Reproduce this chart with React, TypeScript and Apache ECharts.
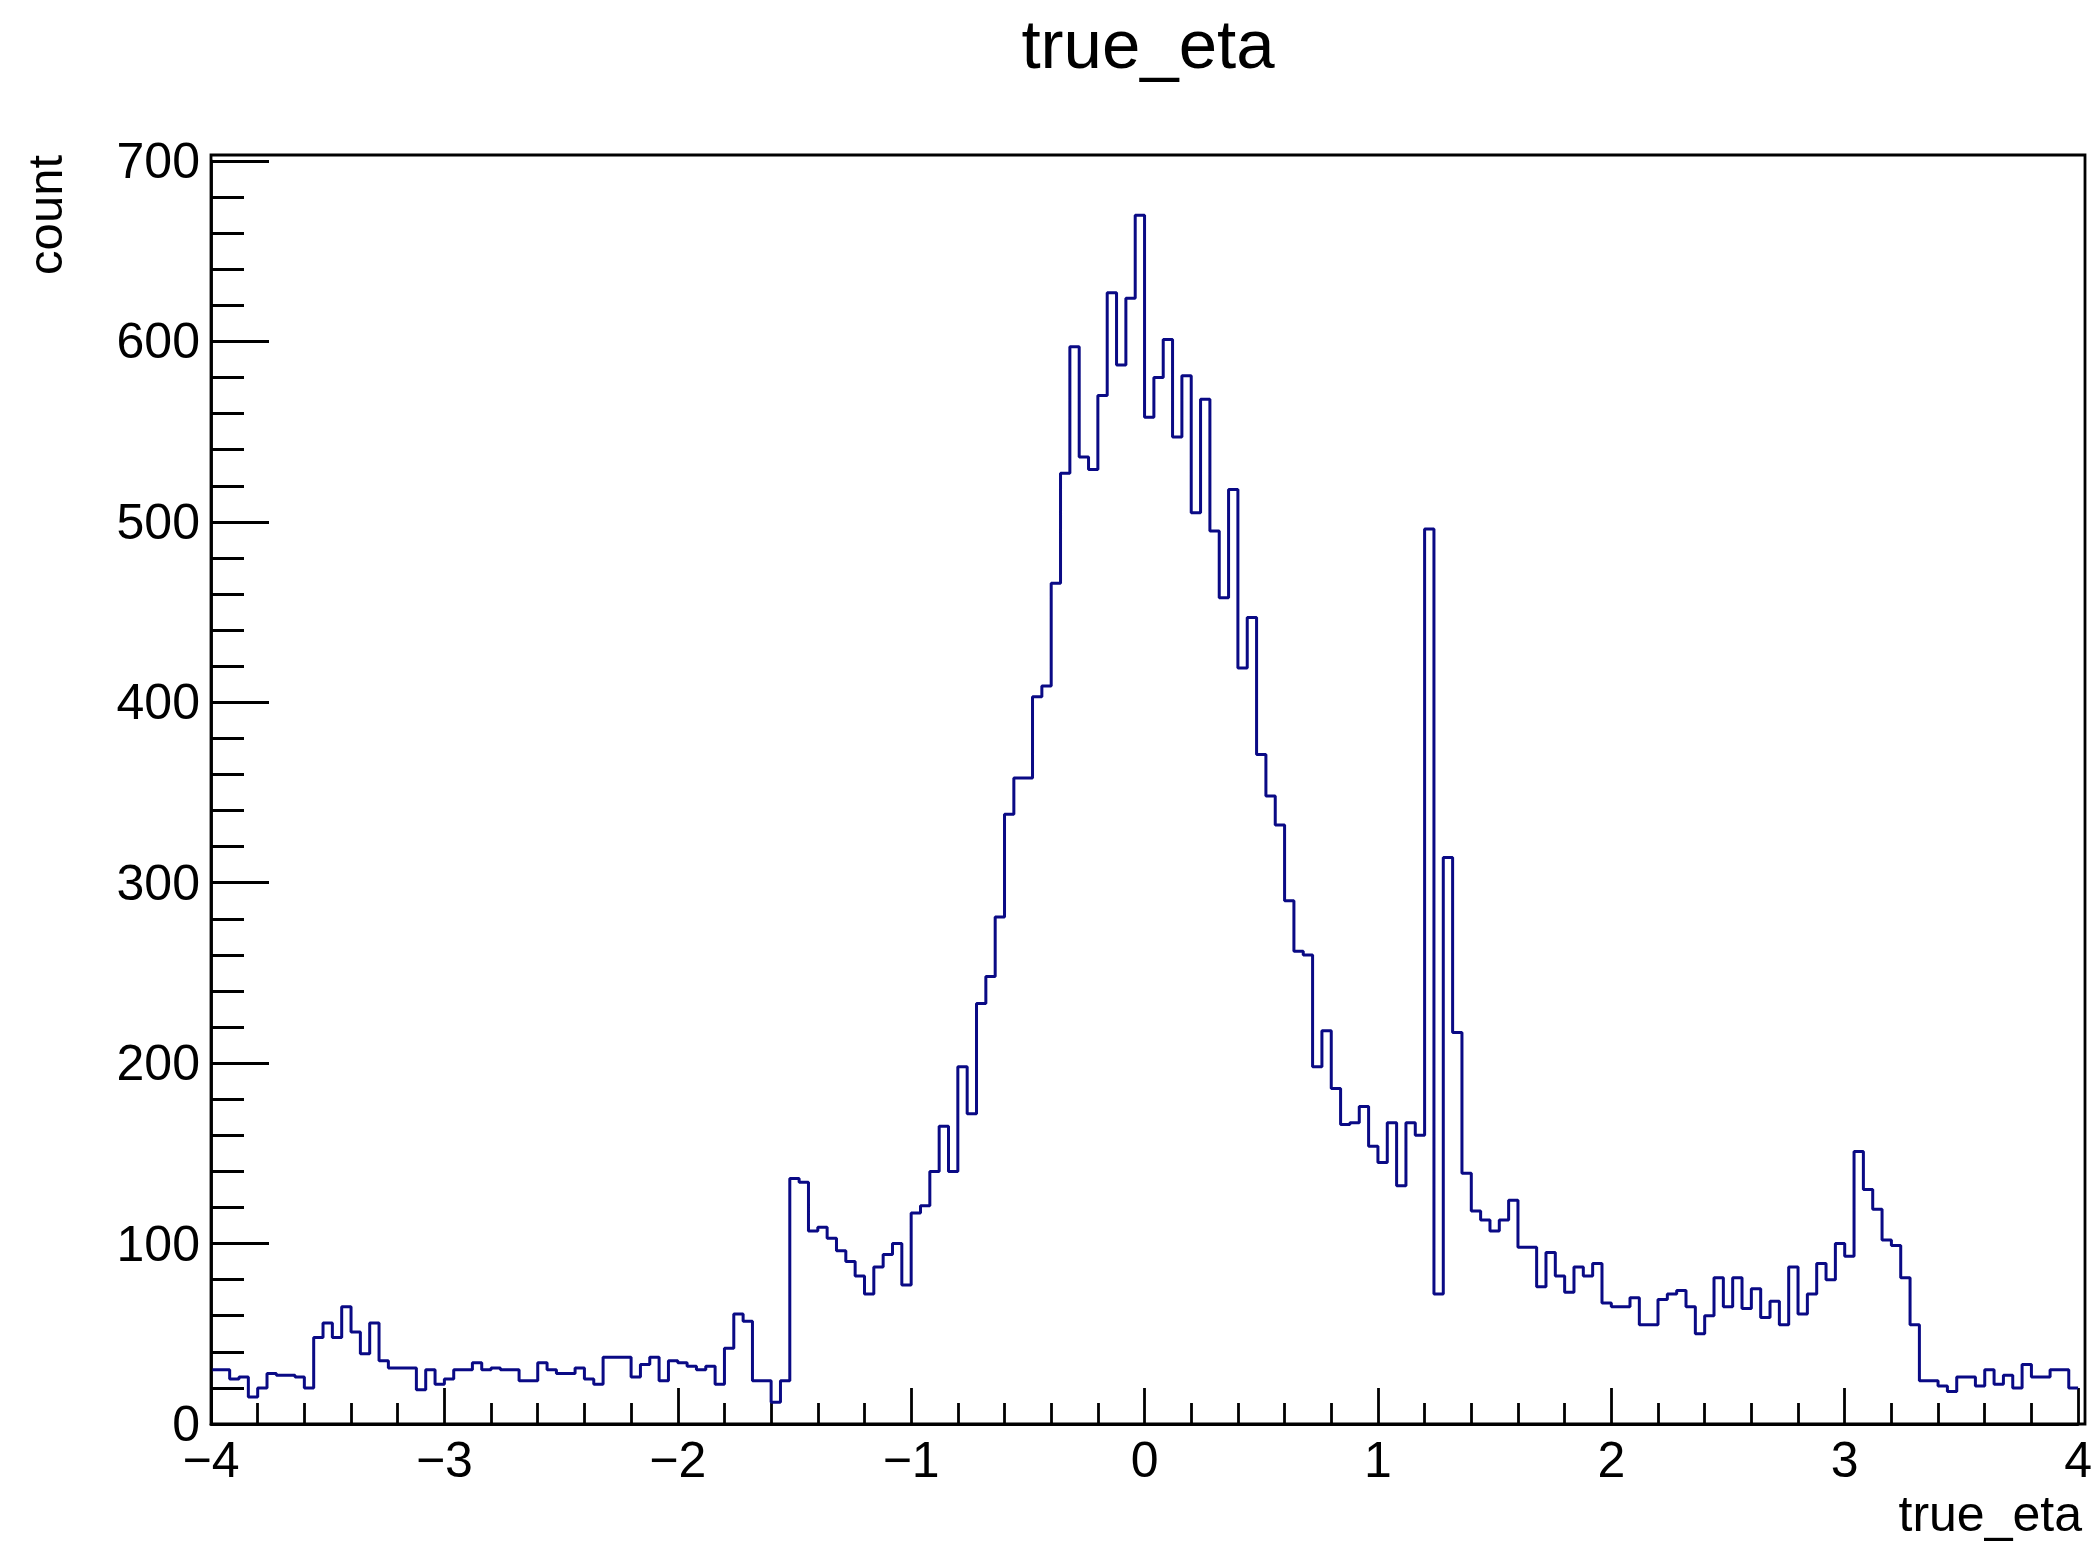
import React, { useEffect, useRef } from "react";
import * as echarts from "echarts";

// Histogram binning: 200 bins over [-4, 4]
const X_MIN = -4;
const X_MAX = 4;
const BIN_WIDTH = 0.04;

// Bin contents, one array per unit of eta (25 bins each)
const countsM4toM3 = [30, 30, 25, 26, 15, 20, 28, 27, 27, 26, 20, 48, 56, 48, 65, 51, 39, 56, 35, 31, 31, 31, 19, 30, 22];
const countsM3toM2 = [25, 30, 30, 34, 30, 31, 30, 30, 24, 24, 34, 30, 28, 28, 31, 25, 22, 37, 37, 37, 26, 33, 37, 24, 35];
const countsM2toM1 = [34, 32, 30, 32, 22, 42, 61, 57, 24, 24, 12, 24, 136, 134, 107, 109, 103, 96, 90, 82, 72, 87, 94, 100, 77];
const countsM1to0 = [117, 121, 140, 165, 140, 198, 172, 233, 248, 281, 338, 358, 358, 403, 409, 466, 527, 597, 536, 529, 570, 627, 587, 624, 670];
const counts0to1 = [558, 580, 601, 547, 581, 505, 568, 495, 458, 518, 419, 447, 371, 348, 332, 290, 262, 260, 198, 218, 186, 166, 167, 176, 154];
const counts1to2 = [145, 167, 132, 167, 160, 496, 72, 314, 217, 139, 118, 113, 107, 113, 124, 98, 98, 76, 95, 82, 73, 87, 82, 89, 67];
const counts2to3 = [65, 65, 70, 55, 55, 69, 72, 74, 65, 50, 60, 81, 65, 81, 64, 75, 59, 68, 55, 87, 61, 72, 89, 80, 100];
const counts3to4 = [93, 151, 130, 119, 102, 99, 81, 55, 24, 24, 21, 18, 26, 26, 21, 30, 22, 27, 20, 33, 26, 26, 30, 30, 20];

const counts = [
  ...countsM4toM3,
  ...countsM3toM2,
  ...countsM2toM1,
  ...countsM1to0,
  ...counts0to1,
  ...counts1to2,
  ...counts2to3,
  ...counts3to4,
];

const Y_MIN = 0;
const Y_MAX = 700;
const Y_INTERVAL = 100;
const X_INTERVAL = 1;

const TITLE = "true_eta";
const X_NAME = "true_eta";
const Y_NAME = "count";

const FONT = "'Liberation Sans', Arial, Helvetica, sans-serif";
const LINE_COLOR = "#0a0a85";

export default function App() {
  const ref = useRef<HTMLDivElement>(null);

  useEffect(() => {
    if (!ref.current) return;
    const chart = echarts.init(ref.current, undefined, { renderer: "svg" });

    const data: number[][] = counts.map((c, i) => [X_MIN + i * BIN_WIDTH, c]);
    data.push([X_MAX, counts[counts.length - 1]]);

    const blackLine = { color: "#000", width: 2.8 };

    chart.setOption({
      animation: false,
      backgroundColor: "#ffffff",
      grid: { left: 211, right: 10, top: 161, bottom: 119, containLabel: false },
      xAxis: {
        type: "value",
        min: X_MIN,
        max: X_MAX,
        interval: X_INTERVAL,
        axisLine: { show: true, onZero: false, lineStyle: blackLine },
        axisTick: { show: true, inside: true, length: 36, lineStyle: blackLine },
        minorTick: { show: true, splitNumber: 5, length: 21, lineStyle: blackLine },
        splitLine: { show: false },
        minorSplitLine: { show: false },
        axisLabel: {
          fontSize: 50,
          color: "#000",
          fontFamily: FONT,
          margin: 11,
          showMinLabel: true,
          showMaxLabel: true,
          formatter: (v: number) => (v < 0 ? "\u2212" + Math.abs(v) : String(v)),
        },
      },
      yAxis: {
        type: "value",
        min: Y_MIN,
        max: Y_MAX,
        interval: Y_INTERVAL,
        axisLine: { show: true, onZero: false, lineStyle: blackLine },
        axisTick: { show: true, inside: true, length: 58, lineStyle: blackLine },
        minorTick: { show: true, splitNumber: 5, length: 33, lineStyle: blackLine },
        splitLine: { show: false },
        minorSplitLine: { show: false },
        axisLabel: {
          fontSize: 50,
          color: "#000",
          fontFamily: FONT,
          margin: 11,
        },
      },
      series: [
        {
          type: "line",
          step: "end",
          data,
          symbol: "none",
          showSymbol: false,
          lineStyle: { color: LINE_COLOR, width: 3 },
          itemStyle: { color: LINE_COLOR },
        },
      ],
      graphic: [
        {
          type: "rect",
          z: 100,
          silent: true,
          shape: { x: 211, y: 155, width: 1874, height: 1269 },
          style: { fill: "none", stroke: "#000", lineWidth: 2.8 },
        },
        {
          type: "text",
          z: 100,
          x: 1148,
          y: 44,
          style: {
            text: TITLE,
            fontSize: 69,
            fontFamily: FONT,
            fill: "#000",
            textAlign: "center",
            textVerticalAlign: "middle",
          },
        },
        {
          type: "text",
          z: 100,
          x: 45,
          y: 155,
          rotation: Math.PI / 2,
          style: {
            text: Y_NAME,
            fontSize: 49,
            fontFamily: FONT,
            fill: "#000",
            textAlign: "right",
            textVerticalAlign: "middle",
          },
        },
        {
          type: "text",
          z: 100,
          x: 2082,
          y: 1514,
          style: {
            text: X_NAME,
            fontSize: 50,
            fontFamily: FONT,
            fill: "#000",
            textAlign: "right",
            textVerticalAlign: "middle",
          },
        },
      ],
    });

    return () => {
      chart.dispose();
    };
  }, []);

  return (
    <div
      ref={ref}
      style={{ position: "fixed", left: 0, top: 0, width: 2095, height: 1543, background: "#fff" }}
    />
  );
}
